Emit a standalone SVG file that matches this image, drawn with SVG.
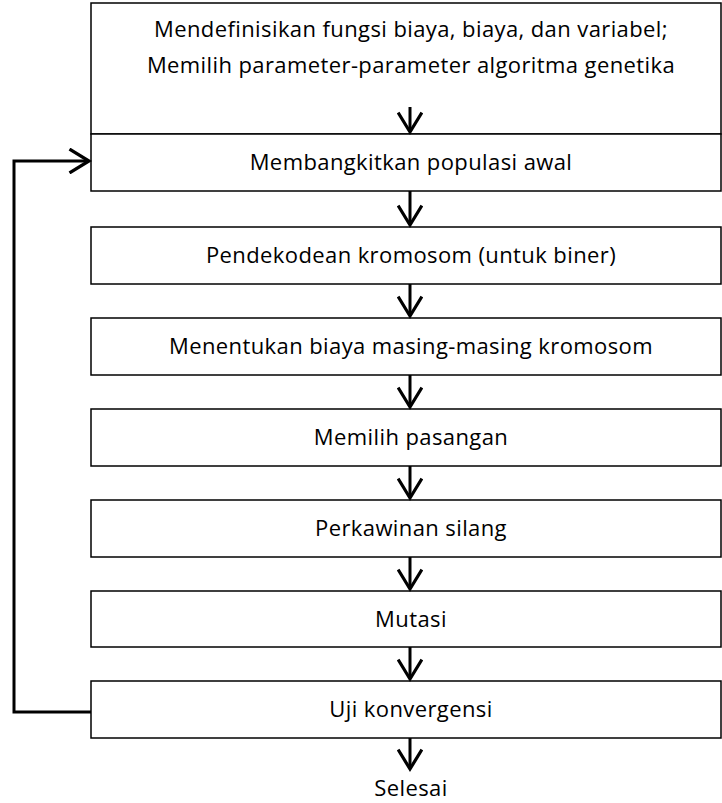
<svg xmlns="http://www.w3.org/2000/svg" width="722" height="803" viewBox="0 0 722 803">
<defs>
<style>
.box{fill:#fff;stroke:#000;stroke-width:1.5}
.t{font-family:"Open Sans","Liberation Sans",sans-serif;font-size:22px;letter-spacing:0.4px;fill:#000;text-anchor:middle}
.c{fill:none;stroke:#000;stroke-width:3}
</style>
<marker id="ah" markerUnits="userSpaceOnUse" markerWidth="26" markerHeight="26" refX="20" refY="12" orient="auto" viewBox="0 0 24 24">
<path d="M2,1 L20,12 L2,23" fill="none" stroke="#000" stroke-width="3"/>
</marker>
</defs>
<g id="n1"><rect class="box" x="91" y="3" width="630" height="131"/>
<text class="t" x="411" y="37">Mendefinisikan fungsi biaya, biaya, dan variabel;</text>
<text class="t" x="411" y="73">Memilih parameter-parameter algoritma genetika</text></g>
<g id="n2"><rect class="box" x="91" y="134" width="630" height="57"/><text class="t" x="411" y="170">Membangkitkan populasi awal</text></g>
<g id="n3"><rect class="box" x="91" y="227" width="630" height="57"/><text class="t" x="411" y="263">Pendekodean kromosom (untuk biner)</text></g>
<g id="n4"><rect class="box" x="91" y="318" width="630" height="57"/><text class="t" x="411" y="354">Menentukan biaya masing-masing kromosom</text></g>
<g id="n5"><rect class="box" x="91" y="409" width="630" height="57"/><text class="t" x="411" y="445">Memilih pasangan</text></g>
<g id="n6"><rect class="box" x="91" y="500" width="630" height="57"/><text class="t" x="411" y="536">Perkawinan silang</text></g>
<g id="n7"><rect class="box" x="91" y="591" width="630" height="56"/><text class="t" x="411" y="627">Mutasi</text></g>
<g id="n8"><rect class="box" x="91" y="681" width="630" height="57"/><text class="t" x="411" y="717">Uji konvergensi</text></g>
<g id="n9"><text class="t" x="411" y="796">Selesai</text></g>
<g id="connectors">
<path class="c" d="M410,107 V132" marker-end="url(#ah)"/>
<path class="c" d="M410,191 V225" marker-end="url(#ah)"/>
<path class="c" d="M410,284 V316" marker-end="url(#ah)"/>
<path class="c" d="M410,375 V407" marker-end="url(#ah)"/>
<path class="c" d="M410,466 V498" marker-end="url(#ah)"/>
<path class="c" d="M410,557 V589" marker-end="url(#ah)"/>
<path class="c" d="M410,647 V679" marker-end="url(#ah)"/>
<path class="c" d="M410,738 V769" marker-end="url(#ah)"/>
<path class="c" d="M91,712 H14 V161 H89" marker-end="url(#ah)"/>
</g>
</svg>
